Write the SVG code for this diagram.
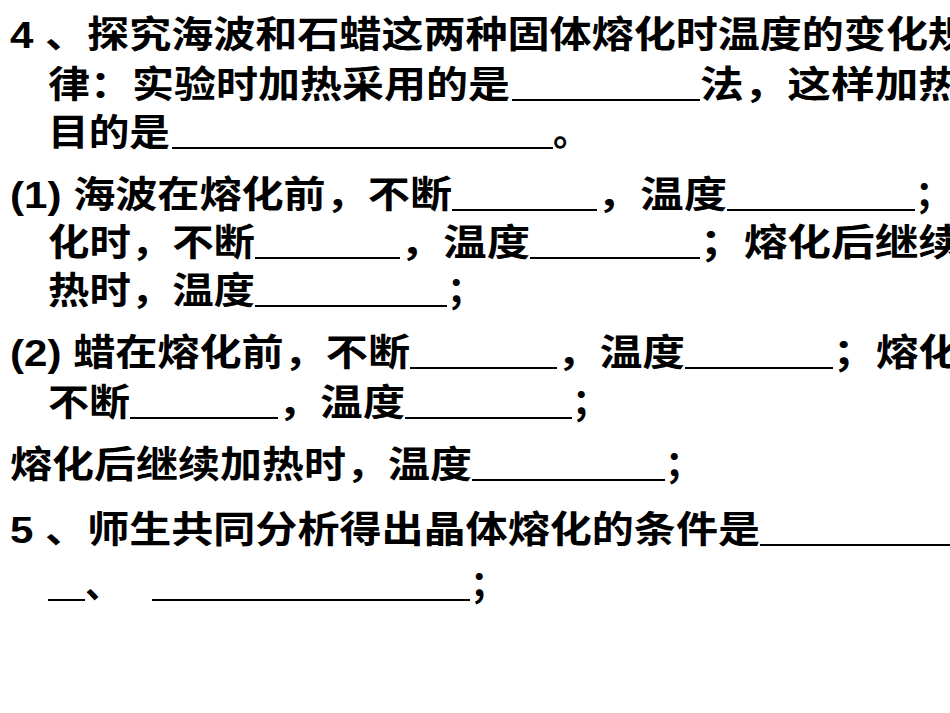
<svg xmlns="http://www.w3.org/2000/svg" width="950" height="713" viewBox="0 0 950 713">
<style>
text{font-family:"Liberation Sans","Noto Sans CJK SC",sans-serif;font-size:37px;font-weight:bold;fill:#000}
line{stroke:#000;stroke-width:2}
</style>
<rect width="950" height="713" fill="#fff"/>
<g id="text">
<text x="10" y="48" textLength="960" lengthAdjust="spacingAndGlyphs">4 、探究海波和石蜡这两种固体熔化时温度的变化规</text>
<text x="48" y="98" textLength="462" lengthAdjust="spacingAndGlyphs">律：实验时加热采用的是</text><text x="700" y="98" textLength="262" lengthAdjust="spacingAndGlyphs">法，这样加热</text>
<text x="48" y="146" textLength="122" lengthAdjust="spacingAndGlyphs">目的是</text><text x="553" y="146">。</text>
<text x="10" y="208" textLength="442" lengthAdjust="spacingAndGlyphs">(1) 海波在熔化前，不断</text><text x="597" y="208" textLength="130" lengthAdjust="spacingAndGlyphs">，温度</text><text x="915" y="208">；</text>
<text x="48" y="256" textLength="207" lengthAdjust="spacingAndGlyphs">化时，不断</text><text x="400" y="256" textLength="130" lengthAdjust="spacingAndGlyphs">，温度</text><text x="700" y="256" textLength="262" lengthAdjust="spacingAndGlyphs">；熔化后继续</text>
<text x="48" y="304" textLength="207" lengthAdjust="spacingAndGlyphs">热时，温度</text><text x="447" y="304">；</text>
<text x="10" y="366" textLength="400" lengthAdjust="spacingAndGlyphs">(2) 蜡在熔化前，不断</text><text x="557" y="366" textLength="128" lengthAdjust="spacingAndGlyphs">，温度</text><text x="833" y="366" textLength="128" lengthAdjust="spacingAndGlyphs">；熔化</text>
<text x="48" y="416" textLength="82" lengthAdjust="spacingAndGlyphs">不断</text><text x="278" y="416" textLength="127" lengthAdjust="spacingAndGlyphs">，温度</text><text x="572" y="416">；</text>
<text x="10" y="478" textLength="462" lengthAdjust="spacingAndGlyphs">熔化后继续加热时，温度</text><text x="665" y="478">；</text>
<text x="10" y="543" textLength="750" lengthAdjust="spacingAndGlyphs">5 、师生共同分析得出晶体熔化的条件是</text>
<text x="85" y="598">、</text><text x="470" y="598">；</text>
</g>
<g id="blanks">
<line x1="512" y1="100" x2="700" y2="100"/>
<line x1="172" y1="148" x2="553" y2="148"/>
<line x1="452" y1="210" x2="597" y2="210"/>
<line x1="727" y1="210" x2="915" y2="210"/>
<line x1="255" y1="258" x2="400" y2="258"/>
<line x1="530" y1="258" x2="700" y2="258"/>
<line x1="255" y1="306" x2="447" y2="306"/>
<line x1="410" y1="368" x2="557" y2="368"/>
<line x1="685" y1="368" x2="833" y2="368"/>
<line x1="130" y1="418" x2="278" y2="418"/>
<line x1="405" y1="418" x2="572" y2="418"/>
<line x1="472" y1="480" x2="665" y2="480"/>
<line x1="760" y1="545" x2="950" y2="545"/>
<line x1="48" y1="600" x2="85" y2="600"/>
<line x1="152" y1="600" x2="470" y2="600"/>
</g>
</svg>
